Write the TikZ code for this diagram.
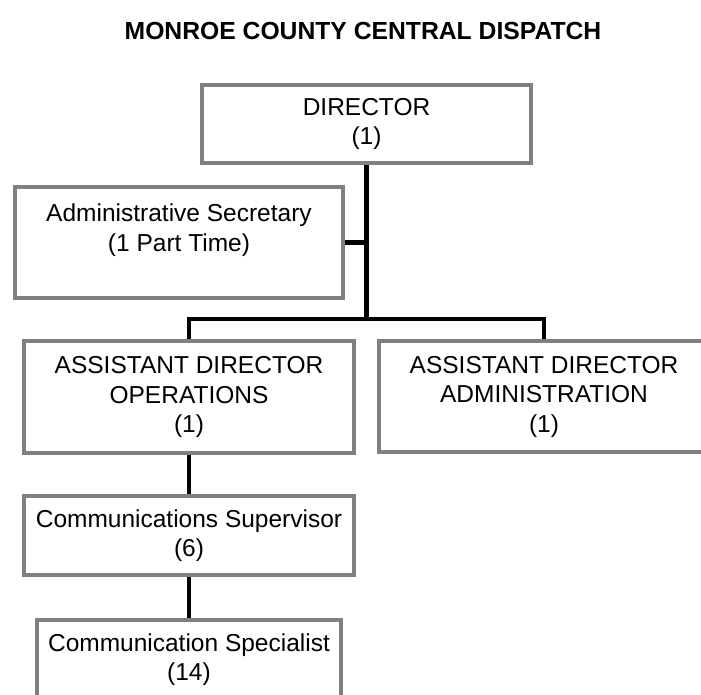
\documentclass[tikz,border=0pt]{standalone}
\usepackage{fontspec}
\setmainfont{Liberation Sans}
\definecolor{boxgray}{HTML}{808080}
\begin{document}
\begin{tikzpicture}[x=1pt,y=-1pt,
  box/.style={draw=boxgray,line width=4pt,fill=white,inner sep=0pt,align=center,
    font=\fontsize{24.5}{29.5}\selectfont},
  link/.style={draw=black,line width=4.5pt}]
\clip (0,0) rectangle (701,694);
\fill[white] (0,0) rectangle (701,694);
\node[font=\fontsize{24.7}{28}\selectfont\bfseries] (title) at (363,31) {MONROE COUNTY CENTRAL DISPATCH};
\node[box,minimum width=329pt,minimum height=78pt] (dir) at (366.5,124) {DIRECTOR\\(1)};
\node[box,minimum width=328pt,minimum height=111pt] (sec) at (179,242.5) {Administrative Secretary\\(1 Part Time)\\\mbox{}};
\node[box,minimum width=330pt,minimum height=112pt] (ops) at (189,397) {ASSISTANT DIRECTOR\\OPERATIONS\\(1)};
\node[box,minimum width=330pt,minimum height=111pt] (adm) at (544,396.5) {ASSISTANT DIRECTOR\\ADMINISTRATION\\(1)};
\node[box,minimum width=330pt,minimum height=79pt] (sup) at (189,535.5) {Communications Supervisor\\(6)};
\node[box,minimum width=304pt,minimum height=79pt] (spec) at (189,659.5) {Communication Specialist\\(14)};
\coordinate (bar) at (366.5,319);
\draw[link] (dir.south) -- (bar);
\draw[link] (dir.south |- sec.east) -- (sec.east);
\draw[link] (ops.north) |- (bar) -| (adm.north);
\draw[link] (ops.south) -- (sup.north);
\draw[link] (sup.south) -- (spec.north);
\end{tikzpicture}
\end{document}
